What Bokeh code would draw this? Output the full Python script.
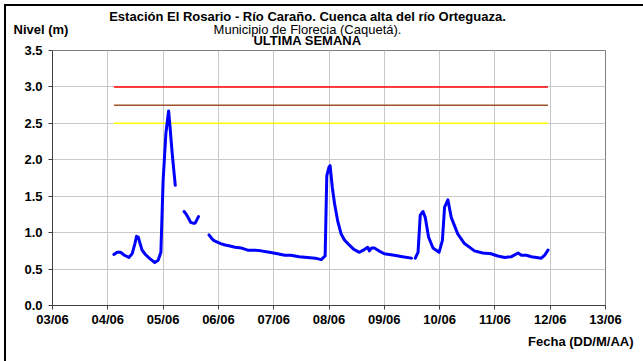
from bokeh.plotting import figure
from bokeh.layouts import column
from bokeh.models import FixedTicker, Range1d, Label
from bokeh.embed import file_html
from bokeh.resources import INLINE

nan = float("nan")

# days since 03/06 00:00
tick_days = [0, 1, 2, 3, 4, 5, 6, 7, 8, 9, 10]
tick_labels = ["03/06", "04/06", "05/06", "06/06", "07/06", "08/06",
               "09/06", "10/06", "11/06", "12/06", "13/06"]
y_ticks = [0.0, 0.5, 1.0, 1.5, 2.0, 2.5, 3.0, 3.5]

day = [1.11, 1.17, 1.23, 1.30, 1.38, 1.44, 1.49, 1.52, 1.55, 1.58, 1.62, 1.68, 1.75, 1.80, 1.85, 1.91, 1.96,
       2.00, 2.05, 2.08, 2.10, 2.12, 2.14, 2.17, 2.22,
       2.23,
       2.38, 2.42, 2.45, 2.50, 2.54, 2.58, 2.64,
       2.70,
       2.83, 2.88, 2.92, 2.98, 3.04, 3.12, 3.19, 3.30, 3.41, 3.53, 3.65, 3.77, 3.92, 4.07, 4.20, 4.31, 4.46, 4.61,
       4.75, 4.86, 4.93, 4.96, 5.00, 5.02, 5.06, 5.10, 5.16, 5.22, 5.28, 5.34, 5.45, 5.55, 5.62, 5.70, 5.73,
       5.77, 5.82, 5.90, 6.00, 6.09, 6.18, 6.33, 6.49,
       6.52,
       6.56, 6.61, 6.65, 6.70, 6.74, 6.80, 6.88, 6.99, 7.05, 7.09, 7.15, 7.21, 7.33, 7.45, 7.63, 7.78, 7.93,
       8.05, 8.18, 8.30, 8.42, 8.48, 8.57, 8.66, 8.75, 8.84, 8.90, 8.96]
nivel = [0.70, 0.73, 0.73, 0.69, 0.66, 0.71, 0.85, 0.95, 0.94, 0.86, 0.76, 0.70, 0.65, 0.62, 0.59, 0.62, 0.73,
         1.71, 2.36, 2.55, 2.67, 2.50, 2.31, 2.04, 1.65,
         nan,
         1.29, 1.25, 1.21, 1.14, 1.13, 1.13, 1.22,
         nan,
         0.97, 0.92, 0.89, 0.87, 0.85, 0.83, 0.82, 0.80, 0.79, 0.76, 0.76, 0.75, 0.73, 0.71, 0.69, 0.69, 0.67, 0.66,
         0.65, 0.63, 0.68, 1.78, 1.90, 1.92, 1.62, 1.40, 1.15, 0.98, 0.90, 0.85, 0.77, 0.73, 0.76, 0.80, 0.75,
         0.79, 0.79, 0.75, 0.71, 0.70, 0.69, 0.67, 0.65,
         nan,
         0.65, 0.73, 1.24, 1.29, 1.21, 0.94, 0.79, 0.73, 0.89, 1.35, 1.45, 1.21, 0.98, 0.85, 0.75, 0.72, 0.71,
         0.68, 0.66, 0.67, 0.72, 0.69, 0.69, 0.67, 0.66, 0.65, 0.69, 0.76]

umbral_rojo = 3.0
umbral_naranja = 2.75
umbral_amarillo = 2.5

titulo = "Estación El Rosario - Río Caraño. Cuenca alta del río Orteguaza."
subtitulo = "Municipio de Florecia (Caquetá)."
periodo = "ULTIMA SEMANA"
eje_y = "Nivel (m)"
eje_x = "Fecha (DD/M/AA)"

FONT = "Liberation Sans"
W, H = 637, 355

# ---------------- main chart ----------------
p = figure(width=W, height=H, output_backend="svg", toolbar_location=None,
           x_range=Range1d(0, 10), y_range=Range1d(0, 3.5),
           min_border_left=46, min_border_right=38, min_border_top=44, min_border_bottom=56,
           background_fill_color="white", border_fill_color="white")
p.frame_align = False
p.outline_line_color = "#808080"
p.outline_line_width = 1

p.xaxis.ticker = FixedTicker(ticks=tick_days)
p.xaxis.major_label_overrides = {d: l for d, l in zip(tick_days, tick_labels)}
p.yaxis.ticker = FixedTicker(ticks=y_ticks)
p.yaxis.major_label_overrides = {v: f"{v:.1f}" for v in y_ticks}

for ax in (p.xaxis, p.yaxis):
    ax.axis_line_color = "#404040"
    ax.axis_line_width = 1
    ax.major_tick_line_color = "#404040"
    ax.major_tick_in = 0
    ax.major_tick_out = 4
    ax.minor_tick_line_color = None
    ax.major_label_text_font = FONT
    ax.major_label_text_font_style = "bold"
    ax.major_label_text_font_size = "13px"
    ax.major_label_text_color = "black"
p.xaxis.major_label_standoff = 2
p.yaxis.major_label_standoff = 6

p.xgrid.grid_line_color = "#c8c8c8"
p.ygrid.grid_line_color = "#c8c8c8"
p.xgrid.grid_line_width = 1
p.ygrid.grid_line_width = 1

x0, x1 = day[0], day[-1]
p.line([x0, x1], [umbral_rojo, umbral_rojo], line_color="#ff0000", line_width=1.5)
p.line([x0, x1], [umbral_naranja, umbral_naranja], line_color="#a0522d", line_width=1.5)
p.line([x0, x1], [umbral_amarillo, umbral_amarillo], line_color="#ffff00", line_width=1.5)

p.line(day, nivel, line_color="#0000ff", line_width=3, line_join="round", line_cap="round")

# ---------------- transparent text overlay (pixel coordinates, y from bottom) ----------------
t = figure(width=W, height=H, output_backend="svg", toolbar_location=None,
           x_axis_type=None, y_axis_type=None,
           x_range=Range1d(0, W), y_range=Range1d(0, H),
           min_border=0, min_border_left=0, min_border_right=0,
           min_border_top=0, min_border_bottom=0)
t.frame_align = False
t.grid.visible = False
t.outline_line_color = None
t.background_fill_alpha = 0
t.border_fill_alpha = 0
t.styles = {"margin-top": f"-{H}px"}


def add_text(x, y, txt, bold=True, align="center", size="13px"):
    t.add_layout(Label(x=x, y=y, text=txt, text_font=FONT,
                       text_font_style="bold" if bold else "normal",
                       text_font_size=size, text_align=align, text_baseline="middle",
                       text_color="black"))


add_text(301, H - 10, titulo)
add_text(301, H - 23, subtitulo, bold=False)
add_text(301, H - 33.5, periodo)
add_text(7, H - 23, eje_y, align="left")
add_text(627, 20, eje_x, align="right")

layout = column(p, t, spacing=0)
layout.styles = {"margin-left": "4px", "margin-top": "4px",
                 "border-left": "2px solid black", "border-top": "2px solid black"}

open("out.html", "w").write(file_html(layout, INLINE))
